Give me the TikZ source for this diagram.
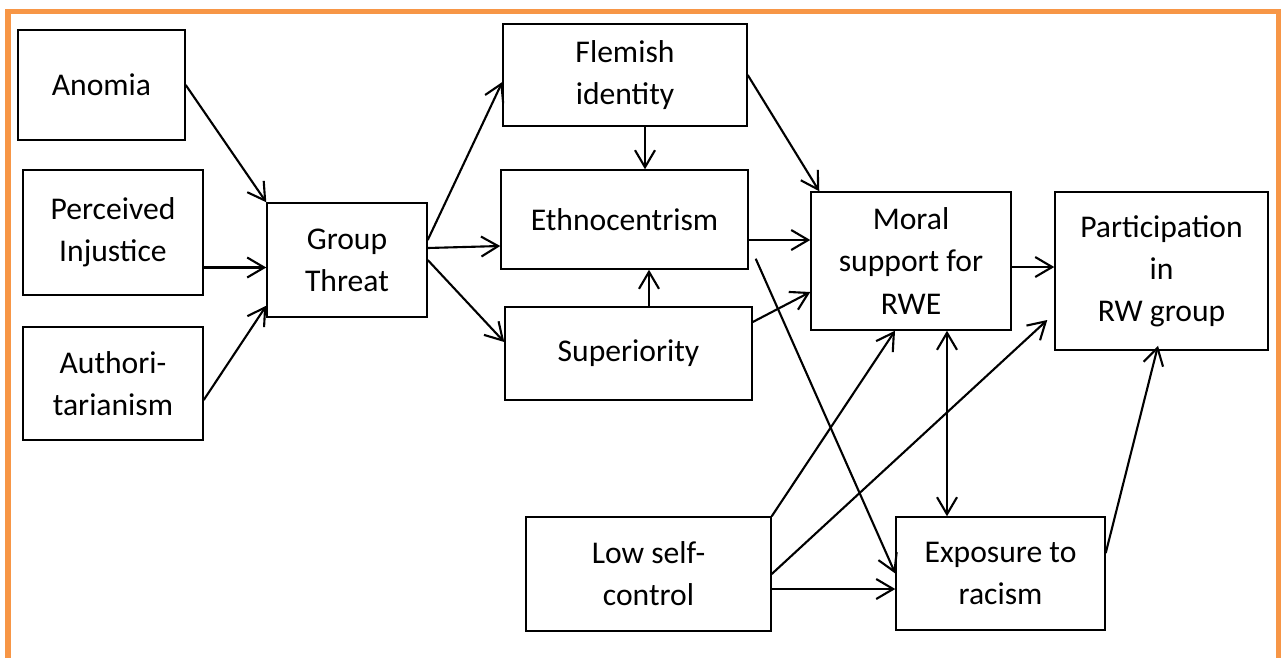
\documentclass[tikz,border=0pt]{standalone}
\usepackage{fontspec}
\setmainfont{Carlito}
\usetikzlibrary{arrows.meta}
\definecolor{frameorange}{HTML}{F79646}
\begin{document}
\begin{tikzpicture}[x=0.02cm, y=-0.02cm,
    box/.style={draw, line width=0.85pt, align=center, inner sep=0pt,
      font=\fontsize{18}{24}\selectfont},
    link/.style={line width=1.2pt, -{Straight Barb[length=0.34cm, width=0.4cm]}}]
  \useasboundingbox (0,0) rectangle (1281,657);
  \draw[frameorange, line width=0.11cm] (8,700) -- (8,11.5) -- (1279,11.5) -- (1279,700);
  \draw
    (101.5,85) node[box, minimum width=3.34cm, minimum height=2.2cm] (anomia){Anomia}
    (113,232.5) node[box, minimum width=3.6cm, minimum height=2.5cm] (injustice){Perceived\\Injustice}
    (113,383.5) node[box, minimum width=3.6cm, minimum height=2.26cm] (authority){Authori-\\tarianism}
    (347,260) node[box, minimum width=3.2cm, minimum height=2.28cm] (threat){Group\\Threat}
    (625,75) node[box, minimum width=4.88cm, minimum height=2.04cm] (flemish){Flemish\\identity}
    (624.5,219.5) node[box, minimum width=4.94cm, minimum height=1.98cm] (ethno){Ethnocentrism}
    (628.5,353.5) node[box, minimum width=4.94cm, minimum height=1.86cm] (superior){Superiority}
    (911,261) node[box, minimum width=4cm, minimum height=2.76cm] (moral){Moral\\support for\\RWE}
    (1161.5,271) node[box, minimum width=4.26cm, minimum height=3.16cm] (particip){Participation\\in\\RW group}
    (648.5,574) node[box, minimum width=4.9cm, minimum height=2.28cm] (lowself){Low self-\\control}
    (1000.5,573.5) node[box, minimum width=4.18cm, minimum height=2.26cm] (exposure){Exposure to\\racism};
  \begin{scope}[link]
    \draw (anomia.east) to (threat.north west);
    \draw ([yshift=-0.7cm]injustice.east) to ([yshift=-0.7cm]injustice.east -| threat.west);
    \draw ([yshift=-0.33cm]authority.east) to ([yshift=0.24cm]threat.south west);
    \draw ([yshift=0.4cm]threat.east) to ([yshift=-0.14cm]flemish.west);
    \draw ([yshift=0.24cm]threat.east) to ([yshift=-0.53cm]ethno.west);
    \draw (threat.east) to ([yshift=0.23cm]superior.west);
    \draw ([xshift=0.4cm]flemish.south) to ([xshift=0.4cm]flemish.south |- ethno.north);
    \draw ([xshift=0.41cm]superior.north) to ([xshift=0.41cm]superior.north |- ethno.south);
    \draw (flemish.east) to ([xshift=0.18cm]moral.north west);
    \draw ([yshift=-0.41cm]ethno.east) to ([yshift=-0.41cm]ethno.east -| moral.west);
    \draw ([yshift=0.63cm]superior.east) to ([yshift=-0.62cm]moral.west);
    \draw ([shift={(0.14cm,0.22cm)}]ethno.south east) to (exposure.west);
    \draw ([yshift=-0.12cm]moral.east) to ([yshift=-0.12cm]moral.east -| particip.west);
    \draw[{Straight Barb[length=0.34cm, width=0.4cm]}-{Straight Barb[length=0.34cm, width=0.4cm]}]
      ([xshift=0.72cm]moral.south) to ([xshift=0.72cm]moral.south |- exposure.north);
    \draw (lowself.north east) to ([xshift=-0.32cm]moral.south);
    \draw (lowself.east) to ([shift={(-0.14cm,-0.98cm)}]particip.west);
    \draw ([yshift=-0.3cm]lowself.east) to ([yshift=-0.3cm]lowself.east -| exposure.west);
    \draw ([yshift=0.41cm]exposure.east) to ([shift={(-0.07cm,0.1cm)}]particip.south);
  \end{scope}
\end{tikzpicture}
\end{document}
